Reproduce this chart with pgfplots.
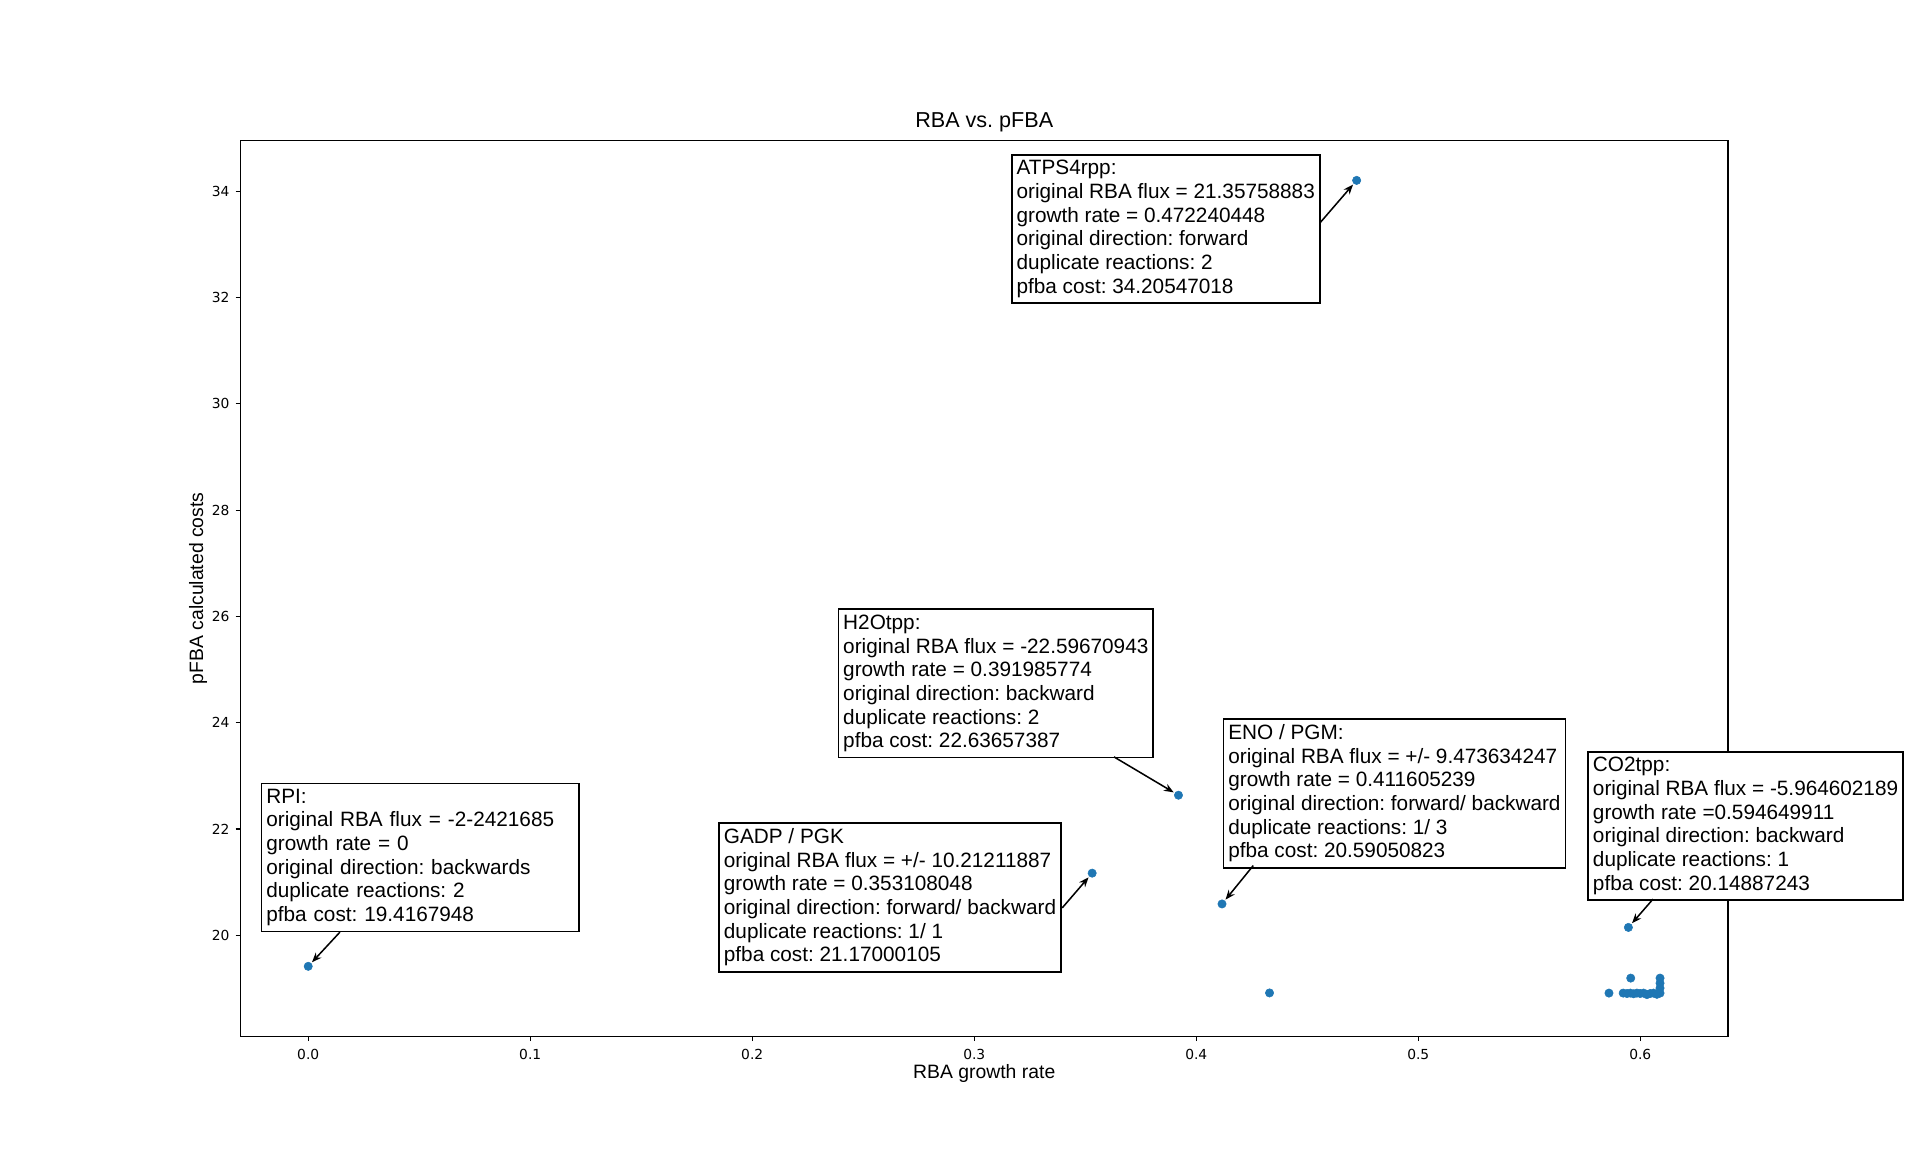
\documentclass[border=0pt]{standalone}
\usepackage{fontspec}
\setmainfont{Liberation Sans}
\newfontfamily\dejavu{DejaVu Sans}
\usepackage{pgfplots}
\pgfplotsset{compat=1.18}
\usetikzlibrary{arrows.meta}
\definecolor{tabblue}{HTML}{1F77B4}
\frenchspacing
\begin{document}
\begin{tikzpicture}
\path[use as bounding box] (0,0) rectangle (1382.4bp,838.08bp);
\begin{axis}[
  at={(173.16bp,91.94bp)}, anchor=south west,
  scale only axis, width=1071bp, height=645.12bp,
  xmin=-0.0305, xmax=0.6395, ymin=18.10, ymax=34.96,
  xtick={0,0.1,0.2,0.3,0.4,0.5,0.6},
  ytick={20,22,24,26,28,30,32,34},
  xticklabel style={/pgf/number format/fixed, /pgf/number format/fixed zerofill, /pgf/number format/precision=1, yshift=-2bp},
  yticklabel style={xshift=-1bp},
  /pgf/number format/assume math mode=true,
  ticklabel style={font=\dejavu\fontsize{10}{12}\selectfont},
  tick align=outside, tick pos=left,
  major tick length=3.5bp,
  axis line style={line width=0.8bp},
  every tick/.style={line width=0.8bp, black},
  clip=false,
  every axis title shift=0pt,
  title={RBA vs. pFBA},
  title style={at={(axis description cs:0.5,1.0145)}, anchor=base, font=\fontsize{15.6}{18}\selectfont},
  xlabel={RBA growth rate},
  xlabel style={at={(axis description cs:0.5,-0.0468)}, anchor=base, font=\fontsize{14}{16}\selectfont},
  ylabel={pFBA calculated costs},
  ylabel style={at={(axis description cs:-0.0252,0.5)}, anchor=base, rotate=0, font=\fontsize{14}{16}\selectfont},
]
\addplot[only marks, mark=*, mark size=3bp, mark options={fill=tabblue, draw=tabblue}] coordinates {
(0.0,19.4167948)
(0.353108048,21.17000105)
(0.391985774,22.63657387)
(0.411605239,20.59050823)
(0.433,18.916)
(0.472240448,34.20547018)
(0.594649911,20.14887243)
(0.5859,18.913)
(0.5957,19.195)
(0.6089,19.195)
(0.6089,19.10)
(0.6089,19.007)
(0.5923,18.913)
(0.5940,18.905)
(0.5955,18.913)
(0.5970,18.900)
(0.5985,18.913)
(0.6000,18.905)
(0.6015,18.913)
(0.6030,18.885)
(0.6045,18.905)
(0.6060,18.913)
(0.6075,18.890)
(0.6089,18.913)
};
\tikzset{ann/.style={draw=black, fill=white, line width=1.2bp, anchor=north west, align=left, inner xsep=3.5bp, inner ysep=4bp, font=\fontsize{15}{17.1}\selectfont},
  arr/.style={line width=1.1bp, -{Stealth[length=7bp,width=5.5bp]}, shorten >=4bp}}
\node[ann] at (axis cs:0.3165,34.704) {ATPS4rpp:\\original RBA flux = 21.35758883\\growth rate = 0.472240448\\original direction: forward\\duplicate reactions: 2\\pfba cost: 34.20547018};
\draw[arr] (axis cs:0.4557,33.405) -- (axis cs:0.472240448,34.20547018);
\node[ann] at (axis cs:0.23842,26.150) {H2Otpp:\\original RBA flux = -22.59670943\\growth rate = 0.391985774\\original direction: backward\\duplicate reactions: 2\\pfba cost: 22.63657387};
\draw[arr] (axis cs:0.36293,23.358) -- (axis cs:0.391985774,22.63657387);
\node[ann, text width=221.7bp] at (axis cs:-0.02144,22.875) {RPI:\\original RBA flux = -2-2421685\\growth rate = 0\\original direction: backwards\\duplicate reactions: 2\\pfba cost: 19.4167948};
\draw[arr] (axis cs:0.01428,20.060) -- (axis cs:0.0,19.4167948);
\node[ann] at (axis cs:0.18468,22.130) {GADP / PGK\\original RBA flux = +/- 10.21211887\\growth rate = 0.353108048\\original direction: forward/ backward\\duplicate reactions: 1/ 1\\pfba cost: 21.17000105};
\draw[arr] (axis cs:0.33964,20.517) -- (axis cs:0.353108048,21.17000105);
\node[ann] at (axis cs:0.41189,24.087) {ENO / PGM:\\original RBA flux = +/- 9.473634247\\growth rate = 0.411605239\\original direction: forward/ backward\\duplicate reactions: 1/ 3\\pfba cost: 20.59050823};
\draw[arr] (axis cs:0.42568,21.313) -- (axis cs:0.411605239,20.59050823);
\node[ann] at (axis cs:0.57613,23.471) {CO2tpp:\\original RBA flux = -5.964602189\\growth rate =0.594649911\\original direction: backward\\duplicate reactions: 1\\pfba cost: 20.14887243};
\draw[arr] (axis cs:0.60572,20.681) -- (axis cs:0.594649911,20.14887243);
\end{axis}
\end{tikzpicture}
\end{document}
